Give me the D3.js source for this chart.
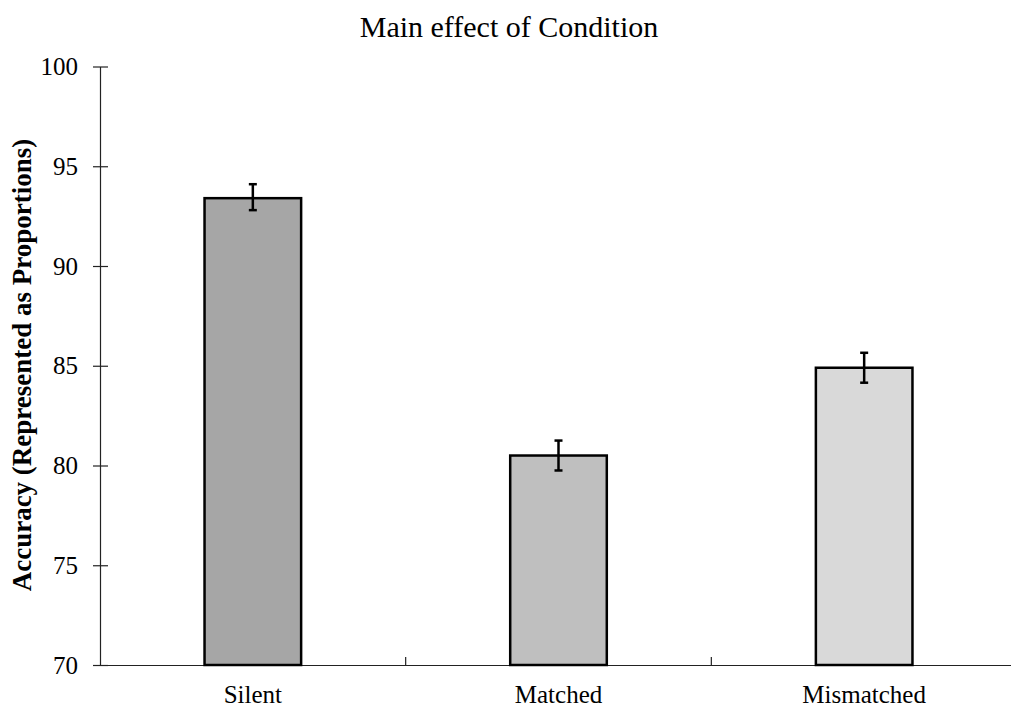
<!DOCTYPE html>
<html>
<head>
<meta charset="utf-8">
<script src="https://cdn.jsdelivr.net/npm/d3@7"></script>
<style>
  body { margin: 0; background: #fff; }
  text { font-family: "Liberation Serif", "Times New Roman", serif; fill: #000; }
</style>
</head>
<body>
<div id="chart"></div>
<script>
(function() {

    var conditions = ["Silent", "Matched", "Mismatched"];
    var accuracy = [93.4, 80.5, 84.9];
    var errorLow = [92.8, 79.75, 84.15];
    var errorHigh = [94.1, 81.25, 85.65];
    var barColors = ["#a6a6a6", "#bfbfbf", "#d9d9d9"];
    var yTicks = [70, 75, 80, 85, 90, 95, 100];

    var width = 1011, height = 711;
    var margin = {top: 66.5, left: 100, right: -6, bottom: 46};

    var svg = d3.select("#chart")
        .append("svg")
        .attr("width", width)
        .attr("height", height);

    var x = d3.scaleBand()
        .domain(conditions)
        .range([margin.left, width - margin.right])
        .padding(0);

    var y = d3.scaleLinear()
        .domain([70, 100])
        .range([height - margin.bottom, margin.top]);

    var barW = x.step() * 0.316;

    // title
    svg.append("text")
        .attr("x", 509)
        .attr("y", 37)
        .attr("text-anchor", "middle")
        .style("font-size", "30px")
        .text("Main effect of Condition");

    // y axis
    var yAxis = svg.append("g")
        .attr("transform", "translate(" + margin.left + ",0)")
        .call(d3.axisLeft(y).tickValues(yTicks).tickSize(0).tickPadding(22));
    yAxis.select(".domain").attr("stroke", "#222").attr("stroke-width", 1.2);
    yAxis.selectAll(".tick line").remove();
    yAxis.selectAll(".tick").append("line")
        .attr("x1", -7).attr("x2", 8)
        .attr("stroke", "#222").attr("stroke-width", 1.2);
    yAxis.selectAll(".tick text")
        .style("font-size", "25px")
        .style("font-family", "Liberation Serif, serif");

    // x axis
    var xAxis = svg.append("g")
        .attr("transform", "translate(0," + y(70) + ")")
        .call(d3.axisBottom(x).tickSize(0).tickPadding(20));
    xAxis.select(".domain").attr("stroke", "#222").attr("stroke-width", 1.2);
    xAxis.selectAll(".tick text")
        .style("font-size", "25px")
        .style("font-family", "Liberation Serif, serif");
    // separators between categories
    xAxis.selectAll(".sep")
        .data(conditions.slice(1))
        .enter().append("line")
        .attr("class", "sep")
        .attr("x1", function(d) { return x(d); })
        .attr("x2", function(d) { return x(d); })
        .attr("y1", 0).attr("y2", -8)
        .attr("stroke", "#222").attr("stroke-width", 1.2);

    // y axis label
    svg.append("text")
        .attr("transform", "translate(31," + 365 + ") rotate(-90)")
        .attr("text-anchor", "middle")
        .style("font-size", "27px")
        .style("font-weight", "bold")
        .text("Accuracy (Represented as Proportions)");

    // bars
    svg.selectAll(".bar")
        .data(conditions)
        .enter().append("rect")
        .attr("class", "bar")
        .attr("x", function(d) { return x(d) + x.bandwidth() / 2 - barW / 2; })
        .attr("y", function(d, i) { return y(accuracy[i]); })
        .attr("width", barW)
        .attr("height", function(d, i) { return y(70) - y(accuracy[i]); })
        .attr("fill", function(d, i) { return barColors[i]; })
        .attr("stroke", "#000")
        .attr("stroke-width", 2.5);

    // error bars
    var err = svg.selectAll(".err")
        .data(conditions)
        .enter().append("g")
        .attr("class", "err")
        .attr("transform", function(d) { return "translate(" + (x(d) + x.bandwidth() / 2) + ",0)"; });

    err.append("line")
        .attr("y1", function(d, i) { return y(errorLow[i]); })
        .attr("y2", function(d, i) { return y(errorHigh[i]); })
        .attr("stroke", "#000").attr("stroke-width", 2.5);
    err.append("line")
        .attr("x1", -4).attr("x2", 4)
        .attr("y1", function(d, i) { return y(errorLow[i]); })
        .attr("y2", function(d, i) { return y(errorLow[i]); })
        .attr("stroke", "#000").attr("stroke-width", 2.5);
    err.append("line")
        .attr("x1", -4).attr("x2", 4)
        .attr("y1", function(d, i) { return y(errorHigh[i]); })
        .attr("y2", function(d, i) { return y(errorHigh[i]); })
        .attr("stroke", "#000").attr("stroke-width", 2.5);

})();
</script>
</body>
</html>
